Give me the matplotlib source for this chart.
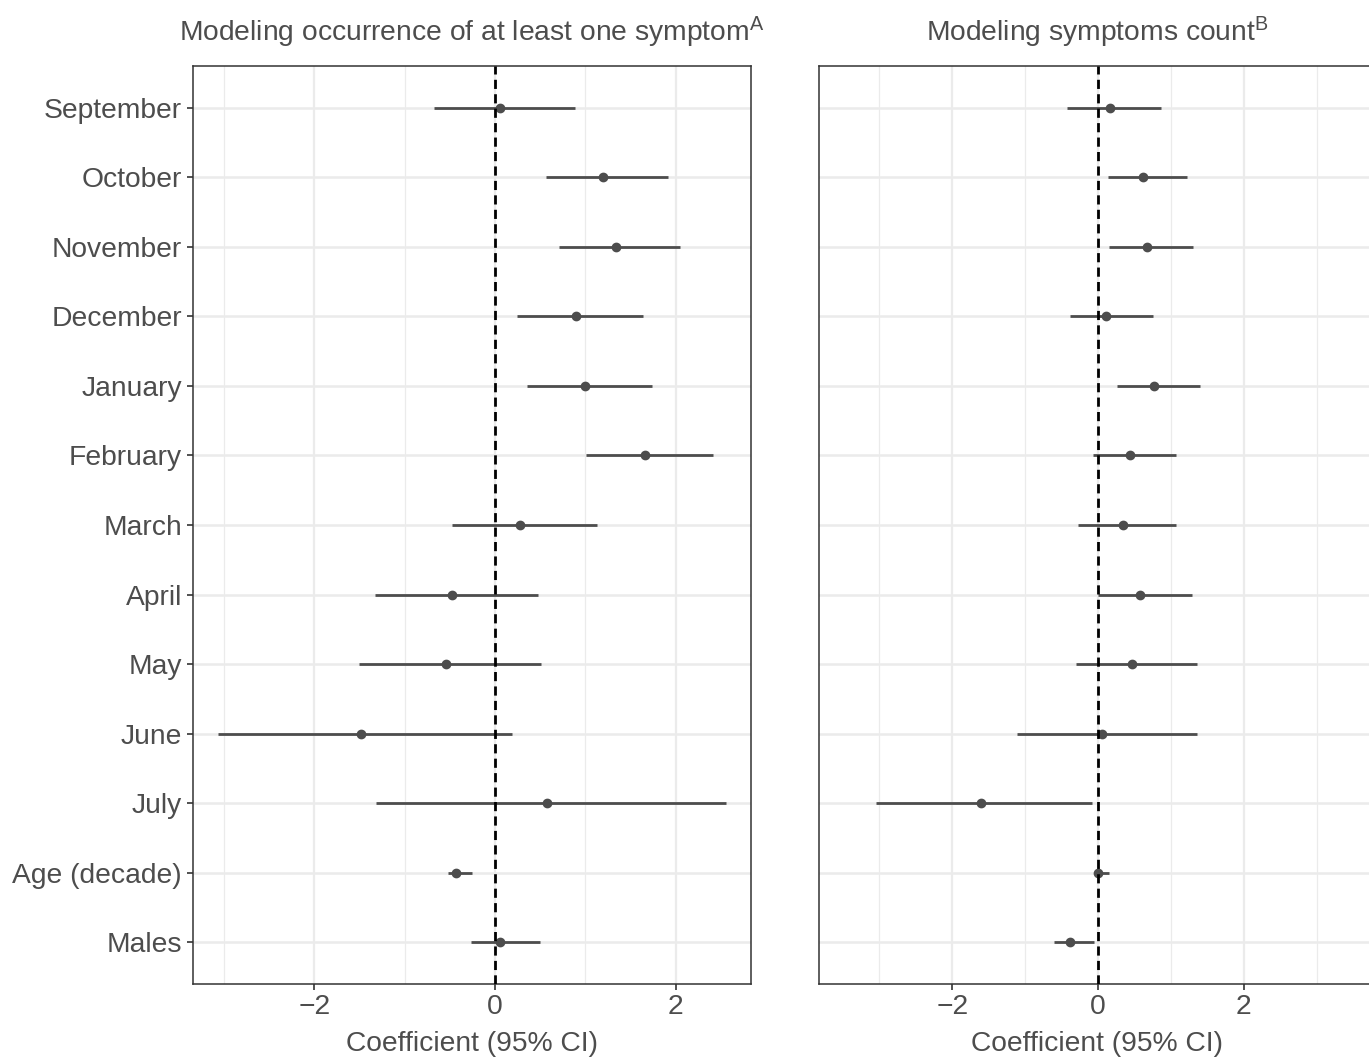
import matplotlib
matplotlib.use("Agg")
import matplotlib.pyplot as plt
import numpy as np

plt.rcParams['font.family'] = ['Liberation Sans', 'DejaVu Sans']
plt.rcParams['mathtext.fontset'] = 'custom'
plt.rcParams['mathtext.rm'] = 'Liberation Sans'
plt.rcParams['mathtext.it'] = 'Liberation Sans'

labels = ["September", "October", "November", "December", "January", "February",
          "March", "April", "May", "June", "July", "Age (decade)", "Males"]

# model A: occurrence of at least one symptom
occ_est = [0.06, 1.19, 1.34, 0.89, 0.99, 1.66, 0.28, -0.48, -0.54, -1.48, 0.57, -0.43, 0.06]
occ_lo = [-0.68, 0.56, 0.71, 0.24, 0.35, 1.01, -0.48, -1.33, -1.51, -3.06, -1.32, -0.52, -0.27]
occ_hi = [0.88, 1.91, 2.05, 1.64, 1.73, 2.41, 1.13, 0.47, 0.51, 0.19, 2.55, -0.26, 0.50]

# model B: symptoms count
cnt_est = [0.17, 0.62, 0.67, 0.11, 0.77, 0.44, 0.34, 0.58, 0.47, 0.06, -1.61, 0.00, -0.39]
cnt_lo = [-0.43, 0.13, 0.15, -0.39, 0.26, -0.07, -0.27, 0.00, -0.31, -1.11, -3.05, -0.01, -0.61]
cnt_hi = [0.87, 1.22, 1.30, 0.75, 1.40, 1.07, 1.07, 1.29, 1.36, 1.36, -0.08, 0.15, -0.06]

titles = ["Modeling occurrence of at least one symptom$^{\\mathrm{A}}$",
          "Modeling symptoms count$^{\\mathrm{B}}$"]

W, H = 1369, 1057
fig = plt.figure(figsize=(W / 100, H / 100), dpi=100)

def fx(px):
    return px / W

def fy(py):
    return 1 - py / H

top, bottom = 66, 984
ax1 = fig.add_axes([fx(193), fy(bottom), fx(751 - 193), (bottom - top) / H])
ax2 = fig.add_axes([fx(819), fy(bottom), fx(556), (bottom - top) / H])

txt_col = "#4d4d4d"
mark_col = "#4d4d4d"
grid_col = "#ebebeb"
spine_col = "#333333"

ypos = np.arange(len(labels))

panels = [
    (ax1, occ_est, occ_lo, occ_hi, (-3.34, 2.83), True),
    (ax2, cnt_est, cnt_lo, cnt_hi, (-3.83, 3.80), False),
]

for i, (ax, est, lo, hi, xlim, show_y) in enumerate(panels):
    ax.set_xlim(*xlim)
    ax.set_ylim(len(labels) - 1 + 0.6, -0.6)

    # grid
    for x in [-3, -1, 1, 3]:
        ax.axvline(x, color=grid_col, lw=0.9, zorder=0)
    for x in [-2, 0, 2]:
        ax.axvline(x, color=grid_col, lw=1.6, zorder=0)
    for y in ypos:
        ax.axhline(y, color=grid_col, lw=1.8, zorder=0)

    ax.hlines(ypos, lo, hi, color=mark_col, lw=2.0, zorder=2)
    ax.plot(est, ypos, 'o', color=mark_col, ms=6, zorder=3)
    ax.axvline(0, color="black", lw=2.0, dashes=(3.3, 1.9), zorder=4)

    ax.set_xticks([-2, 0, 2])
    ax.set_xticklabels(["\u22122", "0", "2"])
    ax.set_yticks(ypos)
    if show_y:
        ax.set_yticklabels(labels)
        ax.tick_params(axis='y', length=4, width=1.2, color=spine_col,
                       labelsize=20.3, labelcolor=txt_col, pad=4)
    else:
        ax.set_yticklabels([])
        ax.tick_params(axis='y', length=0)
    ax.tick_params(axis='x', length=4, width=1.2, color=spine_col,
                   labelsize=20.3, labelcolor=txt_col, pad=3)

    for s in ax.spines.values():
        s.set_color(spine_col)
        s.set_linewidth(1.1)

    ax.set_xlabel("Coefficient (95% CI)", fontsize=20.3, color=txt_col, labelpad=8)
    ax.set_title(titles[i], fontsize=20.3, color=txt_col, pad=18)

fig.savefig("out.png", dpi=100)
